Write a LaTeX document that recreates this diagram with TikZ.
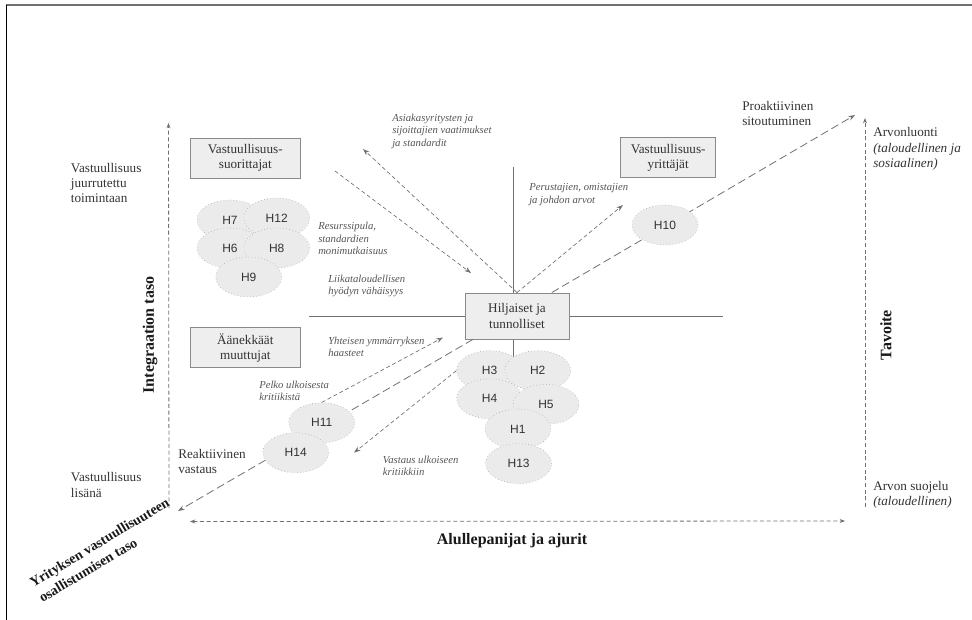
\documentclass[tikz,border=0pt]{standalone}
\usepackage{fontspec}
\setmainfont{Liberation Serif}
\setsansfont{Liberation Sans}
\usetikzlibrary{shapes.geometric,arrows.meta}

\definecolor{txt}{HTML}{333333}
\definecolor{notegray}{HTML}{555555}
\definecolor{ln}{HTML}{707070}
\definecolor{boxfill}{HTML}{EEEEEE}
\definecolor{boxline}{HTML}{8A8A8A}
\definecolor{hypfill}{HTML}{EBEBEB}
\definecolor{hypline}{HTML}{9A9A9A}

\tikzset{
  lbl/.style={anchor=west, align=left, inner sep=0pt, text=txt, font=\fontsize{9.9}{11.6}\selectfont},
  note/.style={anchor=west, align=left, inner sep=0pt, text=notegray, font=\fontsize{8}{9.4}\selectfont\itshape},
  axtitle/.style={inner sep=0pt, text=txt!50!black, font=\fontsize{12}{14}\selectfont\bfseries},
  typebox/.style={draw=boxline, fill=boxfill, line width=0.7pt, align=center, text=txt, font=\fontsize{9.9}{11.4}\selectfont, minimum height=30pt},
  hyp/.style={ellipse, draw=hypline, dotted, fill=hypfill, minimum width=49.5pt, minimum height=30pt, inner sep=0pt, text=txt, font=\sffamily\fontsize{9}{10}\selectfont},
  axisline/.style={draw=ln, dash pattern=on 3pt off 2pt, line width=0.6pt, -{Stealth[length=4pt,width=3pt]}},
  driver/.style={draw=ln, dash pattern=on 3pt off 2pt, line width=0.5pt, -{Stealth[length=5pt,width=3.5pt]}},
  route/.style={draw=ln, dash pattern=on 6pt off 3pt, line width=0.6pt, -{Stealth[length=5pt,width=3.5pt]}},
  cross/.style={draw=ln, line width=0.6pt},
}

\begin{document}
\begin{tikzpicture}[x=0.75pt, y=-0.75pt]
\useasboundingbox (0,0) rectangle (972,620);
\draw[ln, line width=1.5pt] (6,5) -- (972,5);
\draw[black, line width=0.75pt] (6,5) -- (6,620);

\coordinate (yaxb) at (169,508);
\coordinate (yaxt) at (168.5,123);
\coordinate (xaxl) at (190,521.5);
\coordinate (xaxr) at (845,521);
\coordinate (raxb) at (865,507);
\coordinate (raxt) at (865,118);
\coordinate (vtop) at (513,167);
\coordinate (vbot) at (513,362);
\coordinate (hleft) at (309,316);
\coordinate (hright) at (723,316);
\coordinate (proact) at (855,115);
\coordinate (react) at (178,511);
\coordinate (asiak) at (363,149);
\coordinate (suorS) at (335,171);
\coordinate (suorE) at (471,273);
\coordinate (perus) at (623,205);
\coordinate (yhteis) at (443,337.5);
\coordinate (vastaus) at (354,452.7);

\draw[axisline] (yaxb) -- (yaxt);
\draw[axisline, {Stealth[length=4pt,width=3pt]}-{Stealth[length=4pt,width=3pt]}] (xaxl) -- (xaxr);
\draw[axisline] (raxb) -- (raxt);
\draw[cross] (vtop) -- (vbot);
\draw[cross] (hleft) -- (hright);

\node[typebox, minimum width=82.5pt] (suor) at (245.3,158) {Vastuullisuus-\\suorittajat};
\node[typebox, minimum width=71.3pt] (yrit) at (668.2,157.8) {Vastuullisuus-\\yrittäjät};
\node[typebox, minimum width=78pt, minimum height=34.5pt] (hil) at (517,316) {Hiljaiset ja\\tunnolliset};
\node[typebox, minimum width=82.5pt] (aan) at (245.3,347.7) {Äänekkäät\\muuttujat};

\draw[route] (hil.34) -- (proact);
\draw[route] (hil.208) -- (react);

\node[hyp] (h7) at (230,220) {H7};
\node[hyp] (h12) at (276.7,218) {H12};
\node[hyp] (h6) at (230,248) {H6};
\node[hyp] (h8) at (276.7,248) {H8};
\node[hyp] (h9) at (248.7,277) {H9};
\node[hyp] (h10) at (665,225) {H10};
\node[hyp] (h3) at (489.6,370.7) {H3};
\node[hyp] (h2) at (537.7,370.7) {H2};
\node[hyp] (h4) at (489.6,398.7) {H4};
\node[hyp] (h5) at (546,404.4) {H5};
\node[hyp] (h1) at (517.9,429) {H1};
\node[hyp] (h13) at (518.6,463.6) {H13};
\node[hyp] (h11) at (321.7,422.7) {H11};
\node[hyp] (h14) at (295.7,452.7) {H14};

\draw[driver] (suorS) -- (suorE);
\draw[driver] (hil.north) -- (asiak);
\draw[driver] (hil.north) -- (perus);
\draw[driver] (h11.north) -- (yhteis);
\draw[driver] (h3.west) -- (vastaus);

\node[lbl] (juurr) at (70.7,183) {Vastuullisuus\\juurrutettu\\toimintaan};
\node[lbl] (lisana) at (70.7,485) {Vastuullisuus\\lisänä};
\node[lbl] (reakt) at (178,461.5) {Reaktiivinen\\vastaus};
\node[lbl] (proakt) at (742,113.5) {Proaktiivinen\\sitoutuminen};
\node[lbl] (luonti) at (873,149) {Arvonluonti\\\textit{(taloudellinen ja}\\\textit{sosiaalinen)}};
\node[lbl] (suojelu) at (873,495) {Arvon suojelu\\\textit{(taloudellinen)}};

\node[note] (n1) at (392,131) {Asiakasyritysten ja\\sijoittajien vaatimukset\\ja standardit};
\node[note] (n2) at (529,194.5) {Perustajien, omistajien\\ja johdon arvot};
\node[note] (n3) at (318,238.5) {Resurssipula,\\standardien\\monimutkaisuus};
\node[note] (n4) at (328,286) {Liikataloudellisen\\hyödyn vähäisyys};
\node[note] (n5) at (328,347) {Yhteisen ymmärryksen\\haasteet};
\node[note] (n6) at (259,391) {Pelko ulkoisesta\\kritiikistä};
\node[note] (n7) at (382.7,466) {Vastaus ulkoiseen\\kritiikkiin};

\node[axtitle, rotate=90] (integ) at (150,335) {Integraation taso};
\node[axtitle, rotate=90] (tavoite) at (886,335) {Tavoite};
\node[axtitle] (ajurit) at (512,541) {Alullepanijat ja ajurit};
\node[axtitle, rotate=31, align=left, font=\fontsize{10.5}{13.5}\selectfont\bfseries] (osall) at (104,550) {Yrityksen vastuullisuuteen\\osallistumisen taso};
\end{tikzpicture}
\end{document}
